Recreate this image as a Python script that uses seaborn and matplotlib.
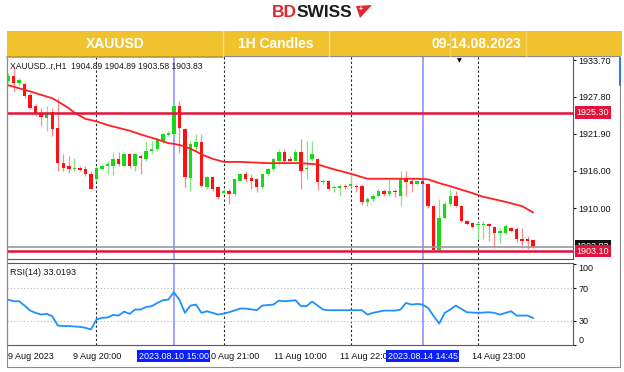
import numpy as np
import pandas as pd
import matplotlib
matplotlib.use("Agg")
import matplotlib.pyplot as plt
import matplotlib.transforms as mtransforms
from matplotlib.patches import Rectangle, Polygon
from matplotlib.lines import Line2D
import seaborn as sns

# XAUUSD 1H candles (bar 0 = first visible candle)
opens = [1930.3, 1931.1, 1930.0, 1929.9, 1928.2, 1926.3, 1925.2, 1924.4, 1925.4, 1922.8,
         1917.2, 1916.7, 1916.2, 1916.4, 1916.2, 1915.5, 1914.6, 1916.3, 1916.7, 1916.8,
         1917.9, 1916.8, 1918.6, 1916.7, 1918.4, 1917.9, 1919.2, 1919.4, 1920.8, 1921.7,
         1921.8, 1926.3, 1922.7, 1914.9, 1919.8, 1920.6, 1913.4, 1915.0, 1913.4, 1912.4,
         1912.7, 1912.2, 1914.4, 1915.5, 1914.8, 1914.7, 1913.3, 1915.4, 1916.2, 1917.5,
         1919.0, 1917.9, 1917.6, 1919.0, 1916.2, 1917.9, 1917.8, 1914.1, 1914.3, 1913.25,
         1913.25, 1913.5, 1913.5, 1913.6, 1913.6, 1910.9, 1911.4, 1912.0, 1912.7, 1912.2,
         1912.8, 1911.9, 1914.6, 1914.4, 1913.9, 1914.3, 1913.8, 1910.3, 1903.3, 1908.4,
         1910.6, 1911.9, 1910.3, 1908.0, 1907.6, 1907.3, 1907.3, 1907.5, 1907.0, 1905.95,
         1906.0, 1906.8, 1906.6, 1905.1, 1905.1, 1904.89]
highs = [1931.6, 1932.7, 1930.9, 1930.2, 1928.4, 1926.6, 1926.0, 1926.3, 1926.0, 1927.6,
         1918.6, 1918.3, 1918.0, 1916.7, 1916.7, 1915.9, 1916.7, 1917.0, 1917.5, 1919.0,
         1919.0, 1919.0, 1918.9, 1918.9, 1918.6, 1920.7, 1920.8, 1921.2, 1922.0, 1922.3,
         1926.6, 1927.1, 1922.8, 1920.7, 1921.8, 1921.8, 1915.1, 1915.1, 1913.5, 1913.0,
         1913.0, 1914.9, 1915.7, 1915.9, 1915.4, 1914.9, 1915.7, 1916.5, 1918.1, 1919.4,
         1919.4, 1918.3, 1919.4, 1921.0, 1920.7, 1920.7, 1918.0, 1914.6, 1914.5, 1913.7,
         1913.8, 1913.8, 1915.6, 1913.9, 1913.8, 1911.7, 1912.2, 1913.0, 1913.0, 1914.6,
         1913.0, 1915.9, 1915.9, 1914.6, 1914.5, 1914.4, 1914.0, 1910.4, 1911.4, 1911.2,
         1913.1, 1912.7, 1910.5, 1908.1, 1907.7, 1907.7, 1908.0, 1907.6, 1907.1, 1906.8,
         1907.4, 1906.9, 1906.9, 1906.8, 1905.5, 1904.89]
lows = [1930.0, 1928.7, 1929.8, 1927.6, 1925.8, 1924.7, 1923.1, 1922.3, 1921.5, 1915.9,
        1915.9, 1915.6, 1915.9, 1915.9, 1915.1, 1913.0, 1914.4, 1916.2, 1915.4, 1915.3,
        1916.8, 1916.7, 1916.5, 1915.9, 1915.4, 1917.5, 1918.6, 1919.1, 1920.4, 1921.5,
        1921.5, 1918.9, 1913.3, 1912.7, 1919.1, 1913.3, 1913.0, 1912.8, 1911.5, 1912.2,
        1910.7, 1911.9, 1914.3, 1914.1, 1913.0, 1912.5, 1913.1, 1915.1, 1915.9, 1917.0,
        1917.3, 1917.5, 1917.5, 1913.0, 1914.6, 1917.5, 1912.9, 1913.9, 1912.9, 1912.6,
        1911.9, 1913.1, 1913.3, 1912.6, 1910.5, 1910.3, 1911.0, 1911.7, 1912.0, 1911.9,
        1911.8, 1910.3, 1912.0, 1912.5, 1913.7, 1913.7, 1910.0, 1902.9, 1903.1, 1908.2,
        1910.4, 1910.1, 1907.8, 1907.3, 1906.8, 1905.0, 1905.0, 1904.7, 1903.6, 1904.45,
        1905.8, 1906.3, 1904.5, 1903.6, 1903.4, 1903.58]
closes = [1931.1, 1930.0, 1930.6, 1927.9, 1926.0, 1925.2, 1924.55, 1925.1, 1922.7, 1917.2,
          1916.5, 1916.3, 1916.5, 1916.1, 1915.4, 1913.1, 1916.5, 1916.8, 1917.1, 1917.9,
          1917.0, 1918.7, 1916.8, 1918.6, 1918.1, 1919.2, 1919.5, 1921.0, 1921.8, 1922.0,
          1926.3, 1922.8, 1915.0, 1920.2, 1920.6, 1913.5, 1915.0, 1913.1, 1911.8, 1912.7,
          1912.2, 1914.6, 1915.5, 1914.7, 1914.4, 1913.4, 1915.5, 1916.2, 1917.8, 1919.0,
          1917.6, 1917.6, 1919.0, 1915.9, 1916.4, 1918.6, 1914.1, 1914.3, 1913.1, 1913.4,
          1913.5, 1913.4, 1913.8, 1913.4, 1910.9, 1911.5, 1911.9, 1912.7, 1912.2, 1912.8,
          1912.5, 1914.6, 1914.2, 1913.9, 1914.3, 1913.9, 1910.3, 1903.3, 1908.4, 1910.6,
          1911.9, 1910.3, 1907.9, 1907.4, 1906.9, 1907.5, 1907.5, 1907.1, 1906.05, 1906.3,
          1907.1, 1906.4, 1905.0, 1904.8, 1904.8, 1903.83]

# red moving average, read at a few bars
ma_bar = [0, 2, 4, 8, 9, 11, 12, 14, 16, 18, 22, 24, 27, 29, 30, 32, 34, 35, 37, 39,
          42, 47, 53, 56, 59, 62, 65, 68, 72, 74, 76, 78, 80, 84, 86, 90, 93, 94, 95]
ma_val = [1929.7, 1929.2, 1928.7, 1927.6, 1927.1, 1926.0, 1925.3, 1924.3, 1923.9, 1923.3,
          1922.4, 1921.8, 1921.0, 1920.4, 1920.3, 1919.9, 1919.1, 1918.6, 1917.9, 1917.4,
          1917.4, 1917.2, 1917.2, 1917.0, 1916.2, 1915.5, 1914.7, 1914.7, 1914.7, 1914.7,
          1914.6, 1914.0, 1913.5, 1912.4, 1911.8, 1911.0, 1910.3, 1909.8, 1909.3]

# RSI(14)
rsi_bar = [0, 1, 2, 3, 4, 5, 6, 7, 8, 9, 10, 11, 13, 14, 15, 16, 17, 18, 19, 20,
           21, 22, 23, 24, 25, 26, 27, 28, 29, 30, 31, 32, 33, 34, 35, 36, 37, 38, 39, 40,
           42, 43, 45, 46, 48, 49, 50, 52, 53, 54, 55, 57, 58, 60, 62, 64, 65, 66, 68, 70,
           71, 72, 73, 74, 75, 76, 77, 78, 79, 80, 81, 82, 83, 85, 87, 88, 89, 91, 92, 94, 95]
rsi_val = [55.7, 53.7, 53.7, 48.4, 42.2, 39.4, 37.3, 38.2, 35.3, 23.9, 23.1, 23.1, 22.2, 21.0,
           19.0, 31.2, 33.3, 33.7, 36.9, 36.1, 41.0, 38.2, 43.5, 43.5, 46.7, 47.6, 51.6, 54.9,
           55.7, 64.7, 55.7, 39.4, 48.4, 49.6, 39.4, 41.4, 39.4, 37.3, 38.6, 40.2, 44.7, 44.7,
           42.7, 48.4, 49.6, 54.5, 53.7, 54.9, 47.6, 47.6, 53.3, 43.5, 42.7, 42.7, 42.7, 42.7,
           37.3, 39.4, 42.2, 42.2, 43.5, 51.6, 49.6, 50.4, 49.6, 45.5, 35.3, 26.3, 39.4, 43.5,
           48.4, 44.3, 40.2, 39.4, 40.2, 39.4, 37.3, 41.4, 36.1, 36.1, 33.0]

levels = [1925.30, 1903.10]
last_price = 1903.83
price_ticks = [1933.70, 1927.80, 1921.90, 1916.00, 1910.00]
rsi_ticks = [100, 70, 30, 0]
grid_bars = [16, 39, 62, 85]
cursor_bars = [30, 75]
cursor_labels = ["2023.08.10 15:00", "2023.08.14 14:45"]
time_bars = [0, 16.1, 40.7, 52.8, 64.9, 88.8]
time_labels = ["9 Aug 2023", "9 Aug 20:00", "10 Aug 21:00", "11 Aug 10:00",
               "11 Aug 22:00", "14 Aug 23:00"]
header = ["XAUUSD", "1H Candles", "09-14.08.2023"]

sns.set_style("white")
plt.rcParams["font.family"] = ["Liberation Sans", "DejaVu Sans"]

W, H = 624, 372
fig = plt.figure(figsize=(6.24, 3.72), dpi=100)


def box(x0, y0, x1, y1):
    # pixel box (top-left origin) -> figure fraction rect
    return [x0 / W, 1 - y1 / H, (x1 - x0) / W, (y1 - y0) / H]


def fx(x):
    return x / W


def fy(y):
    return 1 - y / H


ax = fig.add_axes(box(7, 56, 573, 259))
rsi_ax = fig.add_axes(box(7, 263, 573, 345))

df = pd.DataFrame({"open": opens, "high": highs, "low": lows, "close": closes})
df["bar"] = np.arange(len(df))
up = (df["close"] >= df["open"]).values

# wicks and bodies
ax.vlines(df["bar"], df["low"], df["high"],
          colors=np.where(up, "#7fe87f", "#ff8a8a"), lw=0.9, zorder=2)
body = (df["close"] - df["open"]).abs().clip(lower=0.2)
ax.bar(df["bar"], body, bottom=df[["open", "close"]].min(axis=1), width=0.62,
       color=np.where(up, "#18d818", "#ff1010"), linewidth=0, zorder=3)

sns.lineplot(x=ma_bar, y=ma_val, ax=ax, color="#ff2020", lw=1.3, zorder=4)

for lv in levels:
    ax.axhline(lv, color="#e0143c", lw=1.8, zorder=5)
ax.axhline(last_price, color="#9a9a9a", lw=1.2, zorder=4)

ax.set_xlim(-0.18, 102.2)
ax.set_ylim(1901.84, 1934.37)
ax.yaxis.tick_right()
ax.set_yticks(price_ticks)
ax.set_yticklabels([f"{p:.2f}" for p in price_ticks])
ax.tick_params(axis="y", length=2, pad=2, labelsize=6.5, colors="#111111")
ax.tick_params(axis="x", bottom=False, labelbottom=False)
ax.set_xlabel("")
ax.set_ylabel("")

trans = mtransforms.blended_transform_factory(ax.transAxes, ax.transData)
ax.text(1.006, last_price, f"{last_price:.2f}", transform=trans, color="white",
        fontsize=6.5, va="center", ha="left", clip_on=False, zorder=6,
        bbox=dict(boxstyle="square,pad=0.2", fc="#111111", ec="none"))
for lv in levels:
    ax.text(1.006, lv, f"{lv:.2f}", transform=trans, color="white", fontsize=6.5,
            va="center", ha="left", clip_on=False, zorder=7,
            bbox=dict(boxstyle="square,pad=0.2", fc="#e0143c", ec="none"))

ax.text(0.006, 0.951, "XAUUSD..r,H1  1904.89 1904.89 1903.58 1903.83",
        transform=ax.transAxes, fontsize=6.2, va="center", color="#1a1a1a", zorder=8)
ax.text(0.7986, 0.975, "\u25bc", transform=ax.transAxes, fontsize=4.5,
        ha="center", va="center", color="black", family=["DejaVu Sans"])

# RSI panel
sns.lineplot(x=rsi_bar, y=rsi_val, ax=rsi_ax, color="#1e90ff", lw=1.3, zorder=4)
for lv in (70, 30):
    rsi_ax.axhline(lv, color="#b4b4b4", lw=0.8, ls=(0, (1, 2)))
rsi_ax.set_xlim(-0.18, 102.2)
rsi_ax.set_ylim(-0.15, 100.8)
rsi_ax.yaxis.tick_right()
rsi_ax.set_yticks(rsi_ticks)
rsi_ax.set_yticklabels([str(t) for t in rsi_ticks])
rsi_ax.tick_params(axis="y", length=2, pad=2, labelsize=6.5, colors="#111111")
ylabs = rsi_ax.get_yticklabels()
ylabs[0].set_verticalalignment("top")
ylabs[-1].set_verticalalignment("bottom")
rsi_ax.set_xticks(time_bars)
rsi_ax.set_xticklabels(time_labels)
rsi_ax.tick_params(axis="x", length=0, pad=5, labelsize=6.5, colors="#111111")
rsi_ax.get_xticklabels()[0].set_horizontalalignment("left")
rsi_ax.set_xlabel("")
rsi_ax.set_ylabel("")
rsi_ax.text(0.006, 0.94, "RSI(14) 33.0193", transform=rsi_ax.transAxes,
            fontsize=6.5, va="top", color="#1a1a1a")

xtrans = mtransforms.blended_transform_factory(rsi_ax.transData, rsi_ax.transAxes)
for b, lab in zip(cursor_bars, cursor_labels):
    rsi_ax.text(b, -0.135, lab, transform=xtrans, color="white", fontsize=6.5,
                ha="center", va="center", clip_on=False, zorder=9,
                bbox=dict(boxstyle="square,pad=0.15", fc="#0a1eff", ec="none"))

for a in (ax, rsi_ax):
    for b in grid_bars:
        a.axvline(b, color="#222222", lw=0.8, ls=(0, (2, 2)), zorder=1)
    for b in cursor_bars:
        a.axvline(b, color="#9a9aff", lw=1.3, zorder=1)
    for s in a.spines.values():
        s.set_color("#5a5a5a")
        s.set_linewidth(0.8)

# outer frame and scroll marker
fig.add_artist(Rectangle((fx(7), fy(367)), fx(620 - 7), (367 - 56) / H, fill=False,
                         ec="#8a8a8a", lw=0.8, transform=fig.transFigure, zorder=1))
fig.add_artist(Line2D([fx(620), fx(620)], [fy(58), fy(85)], color="#3a78d8", lw=1.5,
                      transform=fig.transFigure, zorder=11))

# yellow header band
fig.add_artist(Rectangle((fx(7), fy(56)), fx(622 - 7), 25 / H, fc="#f0c22e", ec="none",
                         transform=fig.transFigure, zorder=10))
fig.add_artist(Line2D([fx(7), fx(223)], [fy(56.5), fy(56.5)], color="#cf9d18", lw=1.2,
                      transform=fig.transFigure, zorder=11))
for sx, c in [(223, "#f9e08e"), (329, "#f9e08e"), (450, "#f4d160"), (526, "#f4d160")]:
    fig.add_artist(Line2D([fx(sx), fx(sx)], [fy(31), fy(56)], color=c, lw=1.0,
                          transform=fig.transFigure, zorder=11))
for cx, txt in zip([115, 276, 476], header):
    fig.text(fx(cx), fy(44), txt, color="white", fontsize=10, fontweight="bold",
             ha="center", va="center", zorder=12)

# logo
fig.text(fx(297), fy(12.5), "BD", color="#e3262e", fontsize=12.5, fontweight="bold",
         ha="right", va="center", zorder=12)
fig.text(fx(297), fy(12.5), "SWISS", color="#1c1c1c", fontsize=12.5, fontweight="bold",
         ha="left", va="center", zorder=12)
fig.add_artist(Polygon([(fx(356), fy(6)), (fx(372), fy(5)), (fx(360), fy(18))],
                       closed=True, fc="#e3262e", ec="none", transform=fig.transFigure,
                       zorder=12))
fig.text(fx(361), fy(9.5), "+", color="white", fontsize=5, fontweight="bold",
         ha="center", va="center", zorder=13)

fig.savefig("out.png", dpi=100, facecolor="white")
